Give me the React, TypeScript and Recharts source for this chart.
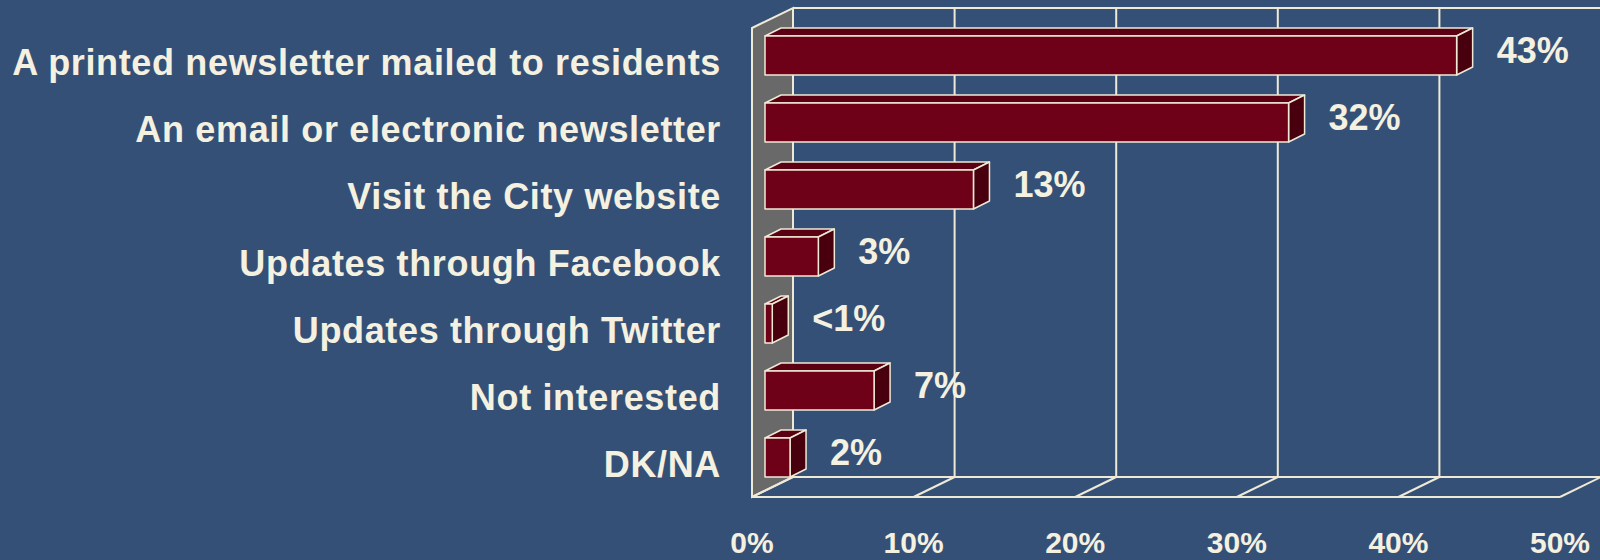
import React from 'react';
import { BarChart, Bar, XAxis, YAxis, CartesianGrid } from 'recharts';

const categories = [
  'A printed newsletter mailed to residents',
  'An email or electronic newsletter',
  'Visit the City website',
  'Updates through Facebook',
  'Updates through Twitter',
  'Not interested',
  'DK/NA',
];
const values = [42.8, 32.4, 12.9, 3.3, 0.45, 6.75, 1.55];
const valueLabels = ['43%', '32%', '13%', '3%', '<1%', '7%', '2%'];
const xTicks = [0, 10, 20, 30, 40, 50];
const xTickLabels = ['0%', '10%', '20%', '30%', '40%', '50%'];

const data = categories.map((name, i) => ({ name, value: values[i], label: valueLabels[i] }));

const BG = '#355077';
const LINE = '#eeead6';
const TEXT = '#f4f1e1';
const WALL = '#696969';
const FRONT = '#6e0017';
const TOP = '#5a0012';
const SIDE = '#48000e';
const FONT = '"Liberation Sans", Arial, Helvetica, sans-serif';

const DEPTH_X = 41;
const DEPTH_Y = 20;
const BAR_OFF_X = 13;
const BAR_OFF_Y = 6;
const BAR_DX = 16;
const BAR_DY = 8;

const renderVertical = (props: any) => {
  const { x1, y1, y2, index, x, width } = props;
  const bx = x1 + DEPTH_X;
  const top = y1 - DEPTH_Y;
  const bottom = y2 - DEPTH_Y;
  const right = x + width;
  return (
    <g key={`v-${index}`}>
      {index === 0 && (
        <g>
          <polygon
            points={`${x1},${y1} ${bx},${top} ${bx},${bottom} ${x1},${y2}`}
            fill={WALL}
            stroke={LINE}
            strokeWidth={2}
          />
          <line x1={bx} y1={top} x2={right + DEPTH_X} y2={top} stroke={LINE} strokeWidth={2} />
          <line x1={bx} y1={bottom} x2={right + DEPTH_X} y2={bottom} stroke={LINE} strokeWidth={2} />
          <line x1={x1} y1={y2} x2={right} y2={y2} stroke={LINE} strokeWidth={2} />
        </g>
      )}
      <line x1={bx} y1={top} x2={bx} y2={bottom} stroke={LINE} strokeWidth={2} />
      <line x1={x1} y1={y2} x2={bx} y2={bottom} stroke={LINE} strokeWidth={2} />
    </g>
  );
};

const Bar3D = (props: any) => {
  const { x, y, width, height, payload } = props;
  const fx = x + BAR_OFF_X;
  const fy = y - BAR_OFF_Y;
  const w = width;
  const h = height;
  const s = { stroke: LINE, strokeWidth: 1.5, strokeLinejoin: 'round' as const };
  return (
    <g>
      <polygon
        points={`${fx},${fy} ${fx + BAR_DX},${fy - BAR_DY} ${fx + w + BAR_DX},${fy - BAR_DY} ${fx + w},${fy}`}
        fill={TOP}
        {...s}
      />
      <polygon
        points={`${fx + w},${fy} ${fx + w + BAR_DX},${fy - BAR_DY} ${fx + w + BAR_DX},${fy + h - BAR_DY} ${fx + w},${fy + h}`}
        fill={SIDE}
        {...s}
      />
      <rect x={fx} y={fy} width={w} height={h} fill={FRONT} {...s} />
      <text
        x={fx + w + BAR_DX + 24}
        y={y + h / 2 + 1}
        fill={TEXT}
        fontFamily={FONT}
        fontWeight="bold"
        fontSize={36}
        textAnchor="start"
      >
        {payload.label}
      </text>
    </g>
  );
};

const XTick = (props: any) => {
  const { x, y, index } = props;
  return (
    <text x={x} y={y + 56} fill={TEXT} fontFamily={FONT} fontWeight="bold" fontSize={30} textAnchor="middle">
      {xTickLabels[index]}
    </text>
  );
};

const YTick = (props: any) => {
  const { x, y, payload } = props;
  return (
    <text
      x={x - 31}
      y={y + 13}
      fill={TEXT}
      fontFamily={FONT}
      fontWeight="bold"
      fontSize={36}
      letterSpacing={0.65}
      textAnchor="end"
    >
      {payload.value}
    </text>
  );
};

export default function App() {
  return (
    <div style={{ position: 'absolute', left: 0, top: 0, width: 1600, height: 560, background: BG }}>
      <BarChart
        width={1600}
        height={560}
        data={data}
        layout="vertical"
        margin={{ top: 28, right: 40, bottom: 0, left: 0 }}
        barSize={39}
      >
        <CartesianGrid horizontal={false} vertical={renderVertical} stroke={LINE} />
        <XAxis
          type="number"
          domain={[0, 50]}
          ticks={xTicks}
          height={63}
          axisLine={false}
          tickLine={false}
          tickSize={0}
          tickMargin={0}
          tick={<XTick />}
          interval={0}
        />
        <YAxis
          type="category"
          dataKey="name"
          width={752}
          axisLine={false}
          tickLine={false}
          tickSize={0}
          tickMargin={0}
          tick={<YTick />}
          interval={0}
        />
        <Bar dataKey="value" shape={<Bar3D />} isAnimationActive={false} />
      </BarChart>
    </div>
  );
}
